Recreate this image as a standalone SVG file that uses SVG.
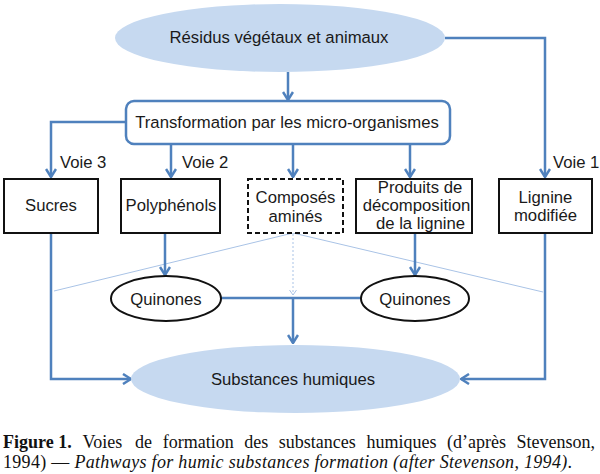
<svg xmlns="http://www.w3.org/2000/svg" width="600" height="474" viewBox="0 0 600 474">
<style>
.t{font-family:"Liberation Sans",Arial,sans-serif;font-size:16.7px;fill:#1a1a1a;text-anchor:middle}
.v{font-family:"Liberation Sans",Arial,sans-serif;font-size:16.7px;fill:#1a1a1a}
.c{stroke:#4f81bd;stroke-width:2.5;fill:none}
.f{stroke:#a9c3e6;stroke-width:1;fill:none}
.box{fill:#fff;stroke:#111;stroke-width:2}
.ell{fill:#c6d9f0;stroke:none}
.cap{font-family:"Liberation Serif","Times New Roman",serif;font-size:18px;fill:#111}
</style>
<defs>
<marker id="a" viewBox="0 0 10 12" refX="9" refY="6" markerWidth="10" markerHeight="12" markerUnits="userSpaceOnUse" orient="auto">
<path d="M1,1 L9,6 L1,11" fill="none" stroke="#4f81bd" stroke-width="2.5"/>
</marker>
<marker id="s" viewBox="0 0 6 8" refX="5.5" refY="4" markerWidth="6" markerHeight="8" markerUnits="userSpaceOnUse" orient="auto">
<path d="M0.5,0.5 L5.5,4 L0.5,7.5" fill="none" stroke="#a9c3e6" stroke-width="1"/>
</marker>
</defs>
<g id="connectors">
<path class="c" d="M288,72 V100" marker-end="url(#a)"/>
<path class="c" d="M445,38 H545 V177" marker-end="url(#a)"/>
<path class="c" d="M126,122 H51 V177" marker-end="url(#a)"/>
<path class="c" d="M171,144 V177" marker-end="url(#a)"/>
<path class="c" d="M293,144 V177" marker-end="url(#a)"/>
<path class="c" d="M410,144 V177" marker-end="url(#a)"/>
<path class="f" d="M293,233 L54,291"/>
<path class="f" d="M293,233 L543,292"/>
<path class="f" d="M293,234 V295" stroke-dasharray="2,2" marker-end="url(#s)"/>
<path class="c" d="M165,233 V275" marker-end="url(#a)"/>
<path class="c" d="M415,233 V275" marker-end="url(#a)"/>
<path class="c" d="M221,298 H361"/>
<path class="c" d="M293,298 V343" marker-end="url(#a)"/>
<path class="c" d="M51,233 V379 H131" marker-end="url(#a)"/>
<path class="c" d="M545,233 V379 H461" marker-end="url(#a)"/>
</g>
<g id="residus">
<ellipse class="ell" cx="280" cy="38" rx="165" ry="34"/>
<text class="t" x="279" y="43">Résidus végétaux et animaux</text>
</g>
<g id="transformation">
<rect x="126" y="101" width="324" height="43" rx="8" fill="#fff" stroke="#4f81bd" stroke-width="2.5"/>
<text class="t" x="287" y="128">Transformation par les micro-organismes</text>
</g>
<g id="voies">
<text class="v" x="60" y="168">Voie 3</text>
<text class="v" x="182" y="168">Voie 2</text>
<text class="v" x="553" y="168">Voie 1</text>
</g>
<g id="sucres">
<rect class="box" x="4" y="179" width="94" height="54"/>
<text class="t" x="51" y="211">Sucres</text>
</g>
<g id="polyphenols">
<rect class="box" x="121" y="179" width="99" height="54"/>
<text class="t" x="171" y="211">Polyphénols</text>
</g>
<g id="composes">
<rect class="box" x="248" y="179" width="95" height="54" stroke-dasharray="5,3"/>
<text class="t" x="295.5" y="203">Composés</text>
<text class="t" x="295.5" y="222">aminés</text>
</g>
<g id="produits">
<rect class="box" x="356" y="179" width="116" height="54"/>
<text class="t" x="420" y="193">Produits de</text>
<text class="t" x="416.5" y="211">décomposition</text>
<text class="t" x="420.5" y="229">de la lignine</text>
</g>
<g id="lignine">
<rect class="box" x="499" y="179" width="93" height="54"/>
<text class="t" x="545.5" y="203">Lignine</text>
<text class="t" x="545.5" y="221">modifiée</text>
</g>
<g id="quinones1">
<ellipse class="box" cx="166" cy="298.5" rx="55" ry="22.5"/>
<text class="t" x="166" y="305">Quinones</text>
</g>
<g id="quinones2">
<ellipse class="box" cx="415" cy="298.5" rx="54" ry="22.5"/>
<text class="t" x="415" y="305">Quinones</text>
</g>
<g id="substances">
<ellipse class="ell" cx="295.5" cy="379" rx="164.5" ry="34"/>
<text class="t" x="293" y="385">Substances humiques</text>
</g>
<g id="caption">
<text class="cap" y="448"><tspan x="3" font-weight="bold">Figure 1.</tspan><tspan x="82.6">Voies</tspan><tspan x="135.1">de</tspan><tspan x="162.7">formation</tspan><tspan x="244.3">des</tspan><tspan x="278.8">substances</tspan><tspan x="366.4">humiques</tspan><tspan x="447">(d’après</tspan><tspan x="516.5">Stevenson,</tspan></text>
<text class="cap" x="3" y="468" textLength="569" lengthAdjust="spacing">1994) — <tspan font-style="italic">Pathways for humic substances formation (after Stevenson, 1994)</tspan>.</text>
</g>
</svg>
